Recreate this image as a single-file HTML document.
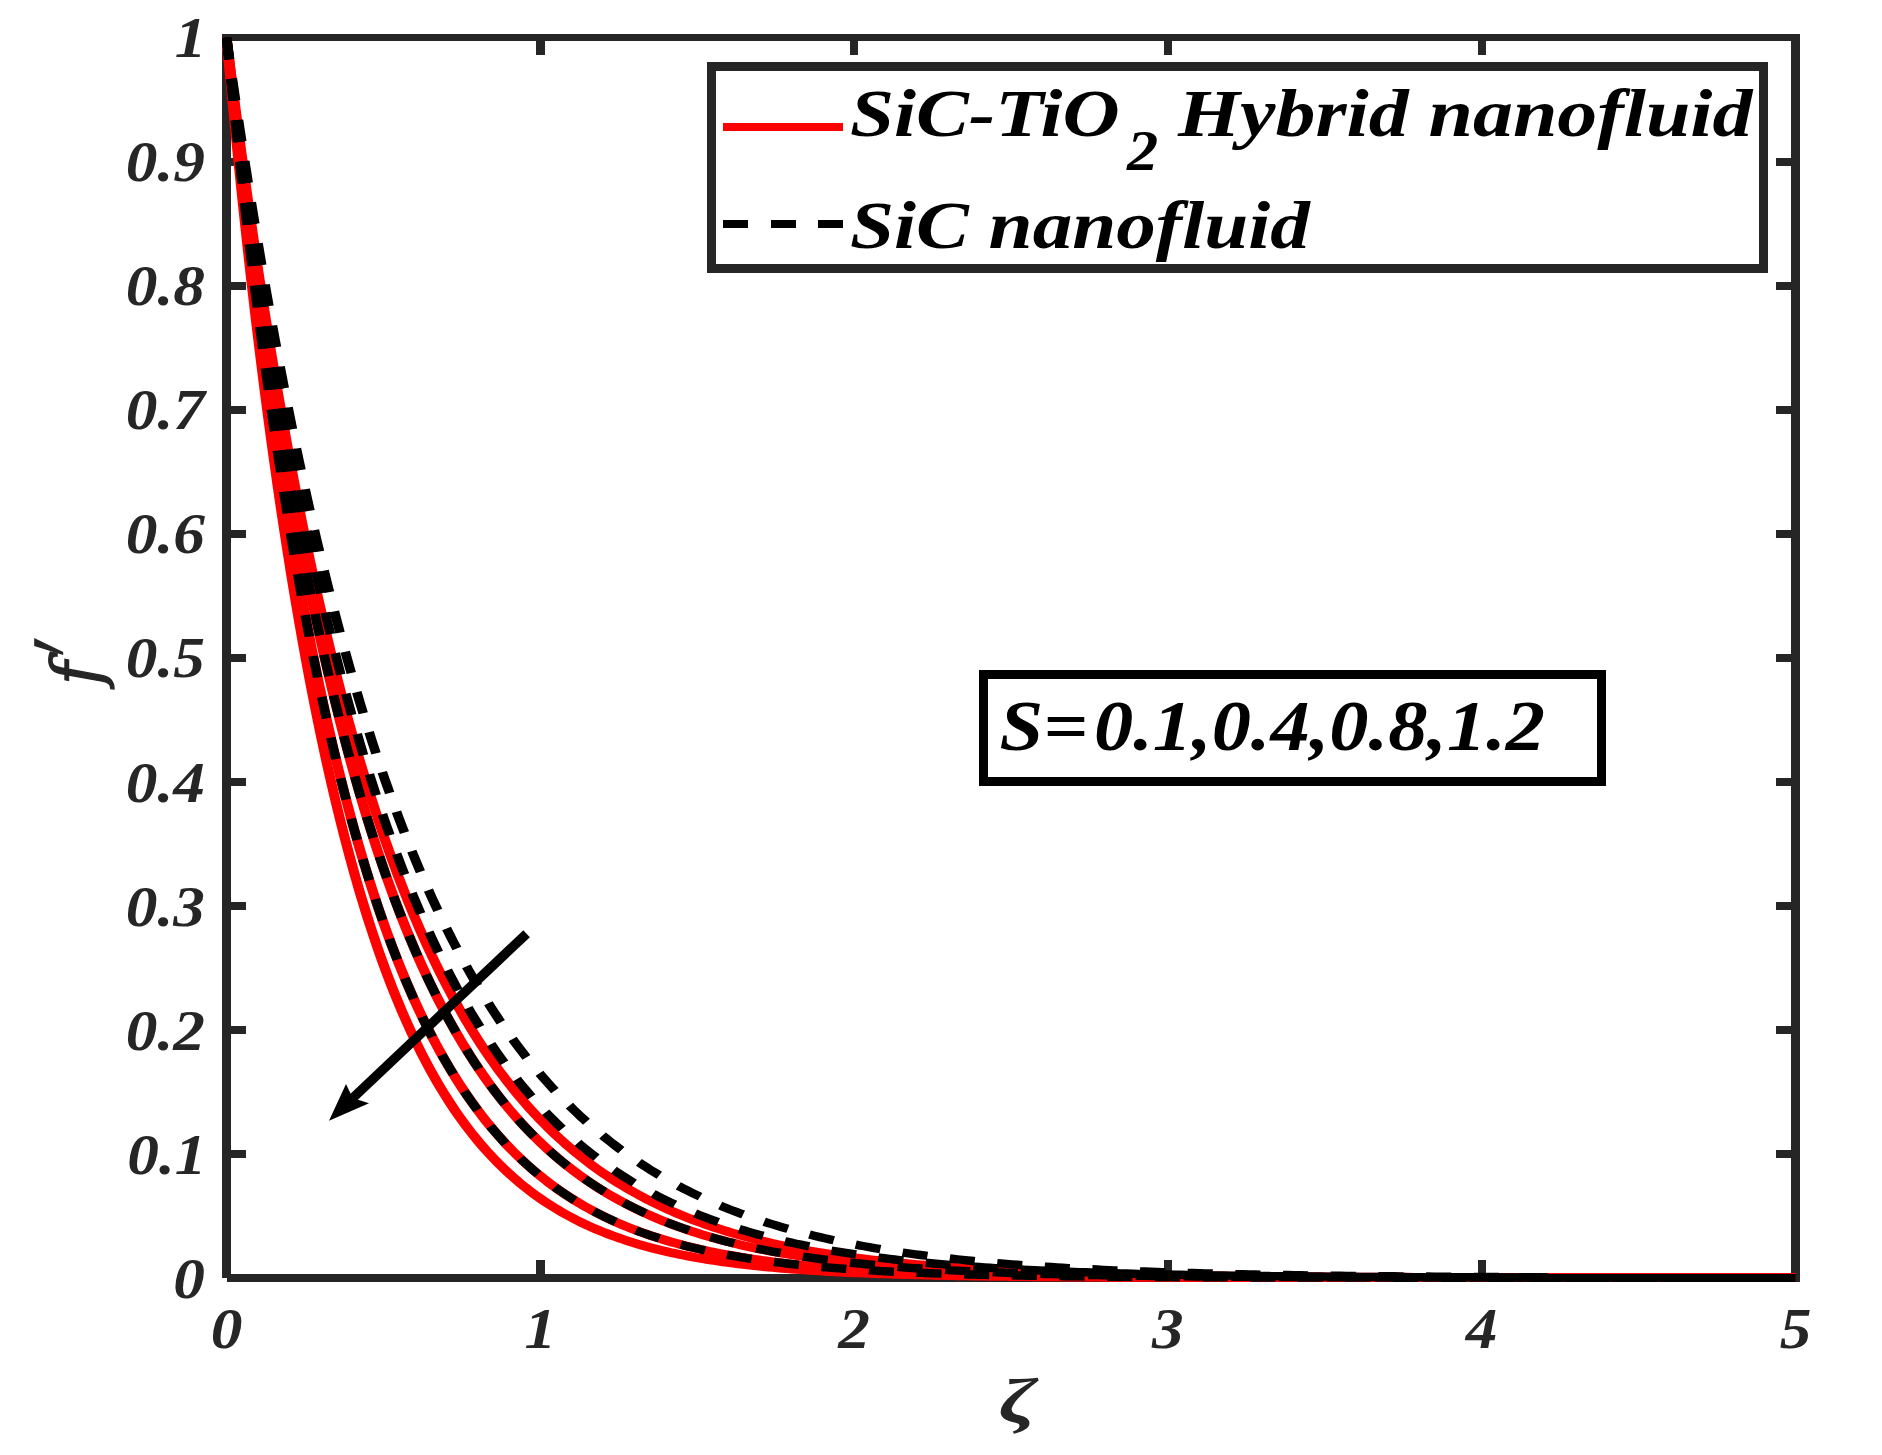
<!DOCTYPE html>
<html lang="en"><head><meta charset="utf-8"><title>f′ versus ζ</title>
<style>html,body{margin:0;padding:0;background:#fff}body{width:1882px;height:1455px;overflow:hidden}svg{display:block}text{font-family:"Liberation Serif","Times New Roman",serif;font-weight:bold;font-style:italic}</style>
</head><body>
<svg width="1882" height="1455" viewBox="0 0 1882 1455">
<rect x="0" y="0" width="1882" height="1455" fill="#fff"/>
<g fill="#262626" shape-rendering="crispEdges">
<rect x="222" y="37.5" width="9" height="1240.3"/>
<rect x="1791" y="37.5" width="9" height="1244.5"/>
<rect x="222" y="34" width="1578" height="7"/>
<rect x="226.5" y="1274" width="1573.5" height="8"/>
<rect x="536.0" y="34" width="8.5" height="21"/>
<rect x="536.0" y="1260" width="8.5" height="18"/>
<rect x="849.9" y="34" width="8.5" height="21"/>
<rect x="849.9" y="1260" width="8.5" height="18"/>
<rect x="1163.7" y="34" width="8.5" height="21"/>
<rect x="1163.7" y="1260" width="8.5" height="18"/>
<rect x="1477.5" y="34" width="8.5" height="21"/>
<rect x="1477.5" y="1260" width="8.5" height="18"/>
<rect x="222" y="1149.8" width="24" height="8"/>
<rect x="1776" y="1149.8" width="24" height="8"/>
<rect x="222" y="1025.7" width="24" height="8"/>
<rect x="1776" y="1025.7" width="24" height="8"/>
<rect x="222" y="901.7" width="24" height="8"/>
<rect x="1776" y="901.7" width="24" height="8"/>
<rect x="222" y="777.7" width="24" height="8"/>
<rect x="1776" y="777.7" width="24" height="8"/>
<rect x="222" y="653.6" width="24" height="8"/>
<rect x="1776" y="653.6" width="24" height="8"/>
<rect x="222" y="529.6" width="24" height="8"/>
<rect x="1776" y="529.6" width="24" height="8"/>
<rect x="222" y="405.6" width="24" height="8"/>
<rect x="1776" y="405.6" width="24" height="8"/>
<rect x="222" y="281.6" width="24" height="8"/>
<rect x="1776" y="281.6" width="24" height="8"/>
<rect x="222" y="157.5" width="24" height="8"/>
<rect x="1776" y="157.5" width="24" height="8"/>
</g>
<clipPath id="cp"><rect x="222" y="30" width="1578" height="1252"/></clipPath>
<g clip-path="url(#cp)"><g transform="scale(1.148,1)" fill="none" stroke-linejoin="round">
<path d="M197.30 37.50 L197.31 37.58 L197.33 37.82 L197.38 38.22 L197.44 38.78 L197.51 39.49 L197.61 40.37 L197.72 41.41 L197.85 42.60 L197.99 43.95 L198.15 45.46 L198.33 47.12 L198.53 48.94 L198.74 50.92 L198.97 53.05 L199.22 55.34 L199.49 57.77 L199.77 60.36 L200.07 63.10 L200.38 65.99 L200.72 69.03 L201.07 72.22 L201.43 75.55 L201.82 79.03 L202.22 82.65 L202.64 86.41 L203.07 90.32 L203.53 94.36 L204.00 98.54 L204.48 102.86 L204.99 107.32 L205.51 111.91 L206.05 116.62 L206.60 121.47 L207.17 126.45 L207.76 131.55 L208.37 136.78 L208.99 142.13 L209.63 147.60 L210.29 153.19 L210.97 158.89 L211.66 164.71 L212.37 170.64 L213.09 176.68 L213.84 182.83 L214.60 189.09 L215.37 195.45 L216.17 201.91 L216.98 208.47 L217.81 215.13 L218.65 221.88 L219.52 228.72 L220.40 235.65 L221.29 242.67 L222.21 249.78 L223.14 256.97 L224.09 264.24 L225.05 271.58 L226.04 279.00 L227.03 286.50 L228.05 294.06 L229.08 301.70 L230.14 309.39 L231.20 317.16 L232.29 324.98 L233.39 332.86 L234.51 340.79 L235.64 348.78 L236.80 356.82 L237.97 364.91 L239.16 373.04 L240.36 381.21 L241.58 389.43 L242.82 397.68 L244.08 405.97 L245.35 414.30 L246.64 422.65 L247.95 431.03 L249.27 439.44 L250.61 447.87 L251.97 456.32 L253.34 464.79 L254.74 473.28 L256.15 481.78 L257.57 490.29 L259.02 498.81 L260.48 507.34 L261.95 515.87 L263.45 524.41 L264.96 532.94 L266.49 541.48 L268.04 550.01 L269.60 558.53 L271.18 567.04 L272.78 575.55 L274.39 584.04 L276.02 592.52 L277.67 600.98 L279.34 609.42 L281.02 617.85 L282.72 626.25 L284.44 634.62 L286.17 642.97 L287.92 651.30 L289.69 659.59 L291.48 667.85 L293.28 676.08 L295.10 684.28 L296.93 692.43 L298.79 700.55 L300.66 708.63 L302.55 716.67 L304.45 724.67 L306.37 732.63 L308.31 740.54 L310.27 748.40 L312.24 756.21 L314.23 763.98 L316.24 771.69 L318.26 779.35 L320.30 786.96 L322.36 794.52 L324.44 802.02 L326.53 809.47 L328.64 816.86 L330.77 824.18 L332.91 831.46 L335.07 838.67 L337.25 845.82 L339.45 852.90 L341.66 859.93 L343.89 866.89 L346.14 873.79 L348.40 880.62 L350.68 887.39 L352.98 894.09 L355.29 900.73 L357.63 907.30 L359.97 913.80 L362.34 920.23 L364.72 926.60 L367.12 932.89 L369.54 939.12 L371.98 945.28 L374.43 951.37 L376.90 957.38 L379.38 963.33 L381.88 969.21 L384.40 975.01 L386.94 980.74 L389.50 986.41 L392.07 992.00 L394.65 997.52 L397.26 1002.97 L399.88 1008.35 L402.52 1013.65 L405.18 1018.89 L407.85 1024.06 L410.54 1029.15 L413.25 1034.17 L415.98 1039.12 L418.72 1044.01 L421.48 1048.82 L424.25 1053.56 L427.05 1058.23 L429.86 1062.83 L432.68 1067.36 L435.53 1071.83 L438.39 1076.22 L441.27 1080.55 L444.16 1084.80 L447.08 1088.99 L450.01 1093.12 L452.95 1097.17 L455.92 1101.16 L458.90 1105.09 L461.90 1108.95 L464.91 1112.74 L467.95 1116.47 L470.99 1120.14 L474.06 1123.74 L477.15 1127.28 L480.25 1130.75 L483.36 1134.17 L486.50 1137.52 L489.65 1140.81 L492.82 1144.05 L496.01 1147.22 L499.21 1150.34 L502.43 1153.39 L505.67 1156.39 L508.92 1159.33 L512.19 1162.22 L515.48 1165.05 L518.79 1167.82 L522.11 1170.54 L525.45 1173.21 L528.81 1175.82 L532.18 1178.38 L535.57 1180.89 L538.98 1183.35 L542.41 1185.75 L545.85 1188.11 L549.31 1190.42 L552.78 1192.68 L556.28 1194.89 L559.79 1197.06 L563.32 1199.17 L566.86 1201.25 L570.42 1203.27 L574.00 1205.26 L577.60 1207.20 L581.21 1209.09 L584.84 1210.95 L588.49 1212.76 L592.15 1214.53 L595.84 1216.26 L599.54 1217.96 L603.25 1219.61 L606.98 1221.22 L610.73 1222.80 L614.50 1224.34 L618.29 1225.84 L622.09 1227.31 L625.90 1228.74 L629.74 1230.14 L633.59 1231.50 L637.46 1232.83 L641.35 1234.13 L645.25 1235.40 L649.17 1236.63 L653.11 1237.84 L657.07 1239.01 L661.04 1240.15 L665.03 1241.27 L669.03 1242.35 L673.06 1243.41 L677.10 1244.44 L681.15 1245.45 L685.23 1246.43 L689.32 1247.38 L693.43 1248.31 L697.56 1249.21 L701.70 1250.09 L705.86 1250.94 L710.03 1251.78 L714.23 1252.59 L718.44 1253.37 L722.67 1254.14 L726.91 1254.88 L731.18 1255.61 L735.46 1256.31 L739.75 1257.00 L744.07 1257.66 L748.40 1258.31 L752.75 1258.94 L757.11 1259.55 L761.49 1260.14 L765.89 1260.72 L770.31 1261.28 L774.74 1261.82 L779.19 1262.35 L783.66 1262.86 L788.14 1263.35 L792.64 1263.84 L797.16 1264.30 L801.70 1264.76 L806.25 1265.20 L810.82 1265.62 L815.41 1266.04 L820.01 1266.44 L824.63 1266.83 L829.27 1267.20 L833.93 1267.57 L838.60 1267.92 L843.29 1268.27 L848.00 1268.60 L852.72 1268.92 L857.46 1269.23 L862.22 1269.53 L866.99 1269.83 L871.79 1270.11 L876.60 1270.38 L881.42 1270.65 L886.27 1270.90 L891.13 1271.15 L896.00 1271.39 L900.90 1271.62 L905.81 1271.85 L910.74 1272.07 L915.68 1272.28 L920.65 1272.48 L925.63 1272.67 L930.62 1272.86 L935.64 1273.05 L940.67 1273.22 L945.72 1273.39 L950.78 1273.56 L955.87 1273.72 L960.97 1273.87 L966.08 1274.02 L971.22 1274.16 L976.37 1274.30 L981.53 1274.44 L986.72 1274.57 L991.92 1274.69 L997.14 1274.81 L1002.38 1274.93 L1007.63 1275.04 L1012.90 1275.14 L1018.19 1275.25 L1023.49 1275.35 L1028.81 1275.44 L1034.15 1275.54 L1039.51 1275.63 L1044.88 1275.71 L1050.27 1275.80 L1055.68 1275.88 L1061.10 1275.95 L1066.55 1276.03 L1072.00 1276.10 L1077.48 1276.17 L1082.97 1276.23 L1088.48 1276.30 L1094.01 1276.36 L1099.55 1276.42 L1105.11 1276.47 L1110.69 1276.53 L1116.29 1276.58 L1121.90 1276.63 L1127.53 1276.68 L1133.17 1276.73 L1138.84 1276.77 L1144.52 1276.82 L1150.21 1276.86 L1155.93 1276.90 L1161.66 1276.93 L1167.41 1276.97 L1173.18 1277.01 L1178.96 1277.04 L1184.76 1277.07 L1190.58 1277.10 L1196.41 1277.13 L1202.26 1277.16 L1208.13 1277.19 L1214.01 1277.22 L1219.92 1277.24 L1225.84 1277.27 L1231.77 1277.29 L1237.73 1277.31 L1243.70 1277.33 L1249.69 1277.35 L1255.69 1277.37 L1261.71 1277.39 L1267.75 1277.41 L1273.81 1277.43 L1279.88 1277.44 L1285.97 1277.46 L1292.08 1277.48 L1298.20 1277.49 L1304.35 1277.50 L1310.51 1277.52 L1316.68 1277.53 L1322.87 1277.54 L1329.08 1277.55 L1335.31 1277.57 L1341.56 1277.58 L1347.82 1277.59 L1354.10 1277.60 L1360.39 1277.61 L1366.70 1277.62 L1373.03 1277.62 L1379.38 1277.63 L1385.74 1277.64 L1392.12 1277.65 L1398.52 1277.65 L1404.94 1277.66 L1411.37 1277.67 L1417.82 1277.67 L1424.29 1277.68 L1430.77 1277.69 L1437.27 1277.69 L1443.79 1277.70 L1450.32 1277.70 L1456.87 1277.71 L1463.44 1277.71 L1470.03 1277.72 L1476.63 1277.72 L1483.25 1277.72 L1489.89 1277.73 L1496.54 1277.73 L1503.21 1277.73 L1509.90 1277.74 L1516.61 1277.74 L1523.33 1277.74 L1530.07 1277.75 L1536.83 1277.75 L1543.60 1277.75 L1550.39 1277.75 L1557.20 1277.76 L1564.02 1277.76" stroke="#ff0000" stroke-width="8.8"/>
<path d="M197.30 37.50 L197.31 37.59 L197.33 37.84 L197.38 38.27 L197.44 38.87 L197.51 39.64 L197.61 40.59 L197.72 41.70 L197.85 42.98 L197.99 44.43 L198.15 46.06 L198.33 47.84 L198.53 49.80 L198.74 51.92 L198.97 54.21 L199.22 56.67 L199.49 59.28 L199.77 62.06 L200.07 65.01 L200.38 68.11 L200.72 71.37 L201.07 74.79 L201.43 78.36 L201.82 82.09 L202.22 85.98 L202.64 90.01 L203.07 94.20 L203.53 98.53 L204.00 103.01 L204.48 107.64 L204.99 112.41 L205.51 117.32 L206.05 122.37 L206.60 127.56 L207.17 132.88 L207.76 138.33 L208.37 143.92 L208.99 149.63 L209.63 155.48 L210.29 161.44 L210.97 167.53 L211.66 173.74 L212.37 180.06 L213.09 186.50 L213.84 193.05 L214.60 199.72 L215.37 206.49 L216.17 213.36 L216.98 220.34 L217.81 227.41 L218.65 234.59 L219.52 241.85 L220.40 249.21 L221.29 256.66 L222.21 264.20 L223.14 271.82 L224.09 279.52 L225.05 287.29 L226.04 295.15 L227.03 303.07 L228.05 311.07 L229.08 319.13 L230.14 327.26 L231.20 335.45 L232.29 343.70 L233.39 352.00 L234.51 360.36 L235.64 368.76 L236.80 377.22 L237.97 385.72 L239.16 394.26 L240.36 402.84 L241.58 411.46 L242.82 420.11 L244.08 428.79 L245.35 437.50 L246.64 446.24 L247.95 455.00 L249.27 463.78 L250.61 472.58 L251.97 481.39 L253.34 490.22 L254.74 499.06 L256.15 507.90 L257.57 516.75 L259.02 525.60 L260.48 534.45 L261.95 543.30 L263.45 552.14 L264.96 560.98 L266.49 569.81 L268.04 578.62 L269.60 587.42 L271.18 596.21 L272.78 604.97 L274.39 613.72 L276.02 622.44 L277.67 631.13 L279.34 639.80 L281.02 648.44 L282.72 657.05 L284.44 665.63 L286.17 674.17 L287.92 682.68 L289.69 691.14 L291.48 699.57 L293.28 707.95 L295.10 716.29 L296.93 724.59 L298.79 732.84 L300.66 741.03 L302.55 749.18 L304.45 757.28 L306.37 765.32 L308.31 773.31 L310.27 781.25 L312.24 789.12 L314.23 796.94 L316.24 804.70 L318.26 812.40 L320.30 820.03 L322.36 827.61 L324.44 835.12 L326.53 842.56 L328.64 849.94 L330.77 857.25 L332.91 864.49 L335.07 871.67 L337.25 878.77 L339.45 885.81 L341.66 892.77 L343.89 899.67 L346.14 906.49 L348.40 913.24 L350.68 919.91 L352.98 926.52 L355.29 933.04 L357.63 939.50 L359.97 945.88 L362.34 952.18 L364.72 958.41 L367.12 964.56 L369.54 970.64 L371.98 976.64 L374.43 982.56 L376.90 988.41 L379.38 994.18 L381.88 999.87 L384.40 1005.49 L386.94 1011.03 L389.50 1016.50 L392.07 1021.88 L394.65 1027.19 L397.26 1032.43 L399.88 1037.59 L402.52 1042.67 L405.18 1047.68 L407.85 1052.61 L410.54 1057.47 L413.25 1062.25 L415.98 1066.96 L418.72 1071.59 L421.48 1076.15 L424.25 1080.64 L427.05 1085.05 L429.86 1089.39 L432.68 1093.66 L435.53 1097.85 L438.39 1101.98 L441.27 1106.03 L444.16 1110.01 L447.08 1113.93 L450.01 1117.77 L452.95 1121.55 L455.92 1125.26 L458.90 1128.90 L461.90 1132.47 L464.91 1135.98 L467.95 1139.42 L470.99 1142.80 L474.06 1146.11 L477.15 1149.36 L480.25 1152.55 L483.36 1155.68 L486.50 1158.74 L489.65 1161.74 L492.82 1164.68 L496.01 1167.57 L499.21 1170.39 L502.43 1173.16 L505.67 1175.87 L508.92 1178.52 L512.19 1181.12 L515.48 1183.66 L518.79 1186.15 L522.11 1188.58 L525.45 1190.97 L528.81 1193.30 L532.18 1195.58 L535.57 1197.80 L538.98 1199.98 L542.41 1202.11 L545.85 1204.20 L549.31 1206.23 L552.78 1208.22 L556.28 1210.16 L559.79 1212.06 L563.32 1213.91 L566.86 1215.72 L570.42 1217.49 L574.00 1219.21 L577.60 1220.89 L581.21 1222.53 L584.84 1224.14 L588.49 1225.70 L592.15 1227.22 L595.84 1228.71 L599.54 1230.16 L603.25 1231.57 L606.98 1232.95 L610.73 1234.29 L614.50 1235.60 L618.29 1236.88 L622.09 1238.12 L625.90 1239.33 L629.74 1240.50 L633.59 1241.65 L637.46 1242.77 L641.35 1243.85 L645.25 1244.91 L649.17 1245.94 L653.11 1246.94 L657.07 1247.91 L661.04 1248.86 L665.03 1249.78 L669.03 1250.67 L673.06 1251.54 L677.10 1252.39 L681.15 1253.21 L685.23 1254.01 L689.32 1254.79 L693.43 1255.54 L697.56 1256.27 L701.70 1256.98 L705.86 1257.67 L710.03 1258.34 L714.23 1258.99 L718.44 1259.62 L722.67 1260.24 L726.91 1260.83 L731.18 1261.41 L735.46 1261.96 L739.75 1262.51 L744.07 1263.03 L748.40 1263.54 L752.75 1264.03 L757.11 1264.51 L761.49 1264.98 L765.89 1265.43 L770.31 1265.86 L774.74 1266.28 L779.19 1266.69 L783.66 1267.08 L788.14 1267.47 L792.64 1267.84 L797.16 1268.20 L801.70 1268.54 L806.25 1268.88 L810.82 1269.20 L815.41 1269.52 L820.01 1269.82 L824.63 1270.11 L829.27 1270.40 L833.93 1270.67 L838.60 1270.93 L843.29 1271.19 L848.00 1271.44 L852.72 1271.68 L857.46 1271.91 L862.22 1272.13 L866.99 1272.35 L871.79 1272.55 L876.60 1272.75 L881.42 1272.95 L886.27 1273.13 L891.13 1273.31 L896.00 1273.49 L900.90 1273.66 L905.81 1273.82 L910.74 1273.97 L915.68 1274.12 L920.65 1274.27 L925.63 1274.41 L930.62 1274.54 L935.64 1274.67 L940.67 1274.80 L945.72 1274.92 L950.78 1275.03 L955.87 1275.15 L960.97 1275.25 L966.08 1275.36 L971.22 1275.46 L976.37 1275.55 L981.53 1275.64 L986.72 1275.73 L991.92 1275.82 L997.14 1275.90 L1002.38 1275.98 L1007.63 1276.06 L1012.90 1276.13 L1018.19 1276.20 L1023.49 1276.27 L1028.81 1276.33 L1034.15 1276.39 L1039.51 1276.45 L1044.88 1276.51 L1050.27 1276.56 L1055.68 1276.62 L1061.10 1276.67 L1066.55 1276.72 L1072.00 1276.76 L1077.48 1276.81 L1082.97 1276.85 L1088.48 1276.89 L1094.01 1276.93 L1099.55 1276.97 L1105.11 1277.01 L1110.69 1277.04 L1116.29 1277.08 L1121.90 1277.11 L1127.53 1277.14 L1133.17 1277.17 L1138.84 1277.20 L1144.52 1277.22 L1150.21 1277.25 L1155.93 1277.28 L1161.66 1277.30 L1167.41 1277.32 L1173.18 1277.34 L1178.96 1277.36 L1184.76 1277.38 L1190.58 1277.40 L1196.41 1277.42 L1202.26 1277.44 L1208.13 1277.46 L1214.01 1277.47 L1219.92 1277.49 L1225.84 1277.50 L1231.77 1277.52 L1237.73 1277.53 L1243.70 1277.54 L1249.69 1277.55 L1255.69 1277.57 L1261.71 1277.58 L1267.75 1277.59 L1273.81 1277.60 L1279.88 1277.61 L1285.97 1277.62 L1292.08 1277.63 L1298.20 1277.63 L1304.35 1277.64 L1310.51 1277.65 L1316.68 1277.66 L1322.87 1277.66 L1329.08 1277.67 L1335.31 1277.68 L1341.56 1277.68 L1347.82 1277.69 L1354.10 1277.69 L1360.39 1277.70 L1366.70 1277.70 L1373.03 1277.71 L1379.38 1277.71 L1385.74 1277.72 L1392.12 1277.72 L1398.52 1277.73 L1404.94 1277.73 L1411.37 1277.73 L1417.82 1277.74 L1424.29 1277.74 L1430.77 1277.74 L1437.27 1277.75 L1443.79 1277.75 L1450.32 1277.75 L1456.87 1277.75 L1463.44 1277.76 L1470.03 1277.76 L1476.63 1277.76 L1483.25 1277.76 L1489.89 1277.76 L1496.54 1277.77 L1503.21 1277.77 L1509.90 1277.77 L1516.61 1277.77 L1523.33 1277.77 L1530.07 1277.77 L1536.83 1277.78 L1543.60 1277.78 L1550.39 1277.78 L1557.20 1277.78 L1564.02 1277.78" stroke="#ff0000" stroke-width="8.8"/>
<path d="M197.30 37.50 L197.31 37.60 L197.33 37.89 L197.38 38.37 L197.44 39.05 L197.51 39.92 L197.61 40.98 L197.72 42.24 L197.85 43.69 L197.99 45.32 L198.15 47.15 L198.33 49.17 L198.53 51.38 L198.74 53.77 L198.97 56.35 L199.22 59.11 L199.49 62.06 L199.77 65.19 L200.07 68.50 L200.38 71.99 L200.72 75.66 L201.07 79.50 L201.43 83.52 L201.82 87.71 L202.22 92.08 L202.64 96.61 L203.07 101.30 L203.53 106.17 L204.00 111.19 L204.48 116.37 L204.99 121.71 L205.51 127.21 L206.05 132.86 L206.60 138.66 L207.17 144.61 L207.76 150.70 L208.37 156.93 L208.99 163.31 L209.63 169.82 L210.29 176.46 L210.97 183.24 L211.66 190.14 L212.37 197.17 L213.09 204.33 L213.84 211.60 L214.60 218.99 L215.37 226.49 L216.17 234.10 L216.98 241.81 L217.81 249.64 L218.65 257.56 L219.52 265.58 L220.40 273.69 L221.29 281.89 L222.21 290.18 L223.14 298.56 L224.09 307.01 L225.05 315.54 L226.04 324.15 L227.03 332.83 L228.05 341.57 L229.08 350.38 L230.14 359.25 L231.20 368.18 L232.29 377.16 L233.39 386.19 L234.51 395.27 L235.64 404.39 L236.80 413.55 L237.97 422.75 L239.16 431.99 L240.36 441.25 L241.58 450.55 L242.82 459.87 L244.08 469.21 L245.35 478.56 L246.64 487.94 L247.95 497.32 L249.27 506.72 L250.61 516.12 L251.97 525.52 L253.34 534.92 L254.74 544.32 L256.15 553.72 L257.57 563.10 L259.02 572.48 L260.48 581.84 L261.95 591.18 L263.45 600.50 L264.96 609.81 L266.49 619.08 L268.04 628.33 L269.60 637.55 L271.18 646.74 L272.78 655.89 L274.39 665.01 L276.02 674.08 L277.67 683.12 L279.34 692.11 L281.02 701.05 L282.72 709.95 L284.44 718.80 L286.17 727.59 L287.92 736.33 L289.69 745.02 L291.48 753.65 L293.28 762.22 L295.10 770.73 L296.93 779.17 L298.79 787.55 L300.66 795.87 L302.55 804.12 L304.45 812.30 L306.37 820.41 L308.31 828.45 L310.27 836.42 L312.24 844.31 L314.23 852.13 L316.24 859.88 L318.26 867.54 L320.30 875.13 L322.36 882.64 L324.44 890.08 L326.53 897.43 L328.64 904.70 L330.77 911.88 L332.91 918.99 L335.07 926.01 L337.25 932.95 L339.45 939.81 L341.66 946.58 L343.89 953.26 L346.14 959.86 L348.40 966.38 L350.68 972.80 L352.98 979.15 L355.29 985.40 L357.63 991.57 L359.97 997.66 L362.34 1003.66 L364.72 1009.57 L367.12 1015.39 L369.54 1021.13 L371.98 1026.78 L374.43 1032.35 L376.90 1037.83 L379.38 1043.22 L381.88 1048.53 L384.40 1053.75 L386.94 1058.89 L389.50 1063.95 L392.07 1068.92 L394.65 1073.80 L397.26 1078.61 L399.88 1083.33 L402.52 1087.96 L405.18 1092.52 L407.85 1097.00 L410.54 1101.39 L413.25 1105.71 L415.98 1109.94 L418.72 1114.10 L421.48 1118.18 L424.25 1122.18 L427.05 1126.11 L429.86 1129.96 L432.68 1133.73 L435.53 1137.43 L438.39 1141.06 L441.27 1144.61 L444.16 1148.09 L447.08 1151.50 L450.01 1154.84 L452.95 1158.11 L455.92 1161.31 L458.90 1164.44 L461.90 1167.51 L464.91 1170.51 L467.95 1173.45 L470.99 1176.32 L474.06 1179.12 L477.15 1181.87 L480.25 1184.55 L483.36 1187.17 L486.50 1189.73 L489.65 1192.23 L492.82 1194.68 L496.01 1197.07 L499.21 1199.40 L502.43 1201.67 L505.67 1203.89 L508.92 1206.06 L512.19 1208.18 L515.48 1210.24 L518.79 1212.25 L522.11 1214.21 L525.45 1216.13 L528.81 1217.99 L532.18 1219.81 L535.57 1221.58 L538.98 1223.31 L542.41 1224.99 L545.85 1226.62 L549.31 1228.22 L552.78 1229.77 L556.28 1231.28 L559.79 1232.75 L563.32 1234.18 L566.86 1235.57 L570.42 1236.92 L574.00 1238.24 L577.60 1239.52 L581.21 1240.77 L584.84 1241.97 L588.49 1243.15 L592.15 1244.29 L595.84 1245.40 L599.54 1246.48 L603.25 1247.53 L606.98 1248.54 L610.73 1249.53 L614.50 1250.49 L618.29 1251.41 L622.09 1252.32 L625.90 1253.19 L629.74 1254.04 L633.59 1254.86 L637.46 1255.66 L641.35 1256.43 L645.25 1257.18 L649.17 1257.91 L653.11 1258.61 L657.07 1259.29 L661.04 1259.95 L665.03 1260.59 L669.03 1261.21 L673.06 1261.81 L677.10 1262.39 L681.15 1262.95 L685.23 1263.50 L689.32 1264.02 L693.43 1264.53 L697.56 1265.02 L701.70 1265.50 L705.86 1265.96 L710.03 1266.40 L714.23 1266.83 L718.44 1267.24 L722.67 1267.64 L726.91 1268.03 L731.18 1268.40 L735.46 1268.76 L739.75 1269.11 L744.07 1269.45 L748.40 1269.77 L752.75 1270.09 L757.11 1270.39 L761.49 1270.68 L765.89 1270.96 L770.31 1271.23 L774.74 1271.49 L779.19 1271.74 L783.66 1271.99 L788.14 1272.22 L792.64 1272.44 L797.16 1272.66 L801.70 1272.87 L806.25 1273.07 L810.82 1273.26 L815.41 1273.45 L820.01 1273.63 L824.63 1273.80 L829.27 1273.97 L833.93 1274.13 L838.60 1274.28 L843.29 1274.43 L848.00 1274.57 L852.72 1274.71 L857.46 1274.84 L862.22 1274.97 L866.99 1275.09 L871.79 1275.20 L876.60 1275.31 L881.42 1275.42 L886.27 1275.53 L891.13 1275.62 L896.00 1275.72 L900.90 1275.81 L905.81 1275.90 L910.74 1275.98 L915.68 1276.06 L920.65 1276.14 L925.63 1276.21 L930.62 1276.28 L935.64 1276.35 L940.67 1276.42 L945.72 1276.48 L950.78 1276.54 L955.87 1276.60 L960.97 1276.65 L966.08 1276.70 L971.22 1276.75 L976.37 1276.80 L981.53 1276.85 L986.72 1276.89 L991.92 1276.93 L997.14 1276.97 L1002.38 1277.01 L1007.63 1277.05 L1012.90 1277.09 L1018.19 1277.12 L1023.49 1277.15 L1028.81 1277.18 L1034.15 1277.21 L1039.51 1277.24 L1044.88 1277.27 L1050.27 1277.29 L1055.68 1277.32 L1061.10 1277.34 L1066.55 1277.36 L1072.00 1277.38 L1077.48 1277.40 L1082.97 1277.42 L1088.48 1277.44 L1094.01 1277.46 L1099.55 1277.48 L1105.11 1277.49 L1110.69 1277.51 L1116.29 1277.52 L1121.90 1277.54 L1127.53 1277.55 L1133.17 1277.56 L1138.84 1277.57 L1144.52 1277.59 L1150.21 1277.60 L1155.93 1277.61 L1161.66 1277.62 L1167.41 1277.63 L1173.18 1277.64 L1178.96 1277.64 L1184.76 1277.65 L1190.58 1277.66 L1196.41 1277.67 L1202.26 1277.67 L1208.13 1277.68 L1214.01 1277.69 L1219.92 1277.69 L1225.84 1277.70 L1231.77 1277.70 L1237.73 1277.71 L1243.70 1277.71 L1249.69 1277.72 L1255.69 1277.72 L1261.71 1277.73 L1267.75 1277.73 L1273.81 1277.73 L1279.88 1277.74 L1285.97 1277.74 L1292.08 1277.74 L1298.20 1277.75 L1304.35 1277.75 L1310.51 1277.75 L1316.68 1277.76 L1322.87 1277.76 L1329.08 1277.76 L1335.31 1277.76 L1341.56 1277.76 L1347.82 1277.77 L1354.10 1277.77 L1360.39 1277.77 L1366.70 1277.77 L1373.03 1277.77 L1379.38 1277.77 L1385.74 1277.78 L1392.12 1277.78 L1398.52 1277.78 L1404.94 1277.78 L1411.37 1277.78 L1417.82 1277.78 L1424.29 1277.78 L1430.77 1277.78 L1437.27 1277.79 L1443.79 1277.79 L1450.32 1277.79 L1456.87 1277.79 L1463.44 1277.79 L1470.03 1277.79 L1476.63 1277.79 L1483.25 1277.79 L1489.89 1277.79 L1496.54 1277.79 L1503.21 1277.79 L1509.90 1277.79 L1516.61 1277.79 L1523.33 1277.79 L1530.07 1277.79 L1536.83 1277.79 L1543.60 1277.79 L1550.39 1277.79 L1557.20 1277.80 L1564.02 1277.80" stroke="#ff0000" stroke-width="8.8"/>
<path d="M197.30 37.50 L197.31 37.61 L197.33 37.93 L197.38 38.46 L197.44 39.20 L197.51 40.16 L197.61 41.33 L197.72 42.71 L197.85 44.30 L197.99 46.10 L198.15 48.11 L198.33 50.33 L198.53 52.75 L198.74 55.38 L198.97 58.22 L199.22 61.25 L199.49 64.49 L199.77 67.92 L200.07 71.56 L200.38 75.39 L200.72 79.41 L201.07 83.63 L201.43 88.03 L201.82 92.62 L202.22 97.40 L202.64 102.36 L203.07 107.50 L203.53 112.82 L204.00 118.31 L204.48 123.98 L204.99 129.81 L205.51 135.82 L206.05 141.98 L206.60 148.31 L207.17 154.79 L207.76 161.43 L208.37 168.22 L208.99 175.16 L209.63 182.25 L210.29 189.47 L210.97 196.84 L211.66 204.33 L212.37 211.96 L213.09 219.72 L213.84 227.60 L214.60 235.60 L215.37 243.72 L216.17 251.95 L216.98 260.30 L217.81 268.74 L218.65 277.29 L219.52 285.94 L220.40 294.68 L221.29 303.51 L222.21 312.43 L223.14 321.43 L224.09 330.51 L225.05 339.66 L226.04 348.89 L227.03 358.18 L228.05 367.54 L229.08 376.95 L230.14 386.43 L231.20 395.95 L232.29 405.52 L233.39 415.14 L234.51 424.80 L235.64 434.49 L236.80 444.22 L237.97 453.97 L239.16 463.76 L240.36 473.56 L241.58 483.38 L242.82 493.22 L244.08 503.07 L245.35 512.93 L246.64 522.79 L247.95 532.65 L249.27 542.51 L250.61 552.36 L251.97 562.21 L253.34 572.04 L254.74 581.86 L256.15 591.66 L257.57 601.43 L259.02 611.19 L260.48 620.91 L261.95 630.61 L263.45 640.27 L264.96 649.89 L266.49 659.47 L268.04 669.02 L269.60 678.52 L271.18 687.97 L272.78 697.37 L274.39 706.72 L276.02 716.02 L277.67 725.26 L279.34 734.44 L281.02 743.57 L282.72 752.62 L284.44 761.62 L286.17 770.54 L287.92 779.40 L289.69 788.19 L291.48 796.91 L293.28 805.55 L295.10 814.11 L296.93 822.60 L298.79 831.01 L300.66 839.34 L302.55 847.59 L304.45 855.76 L306.37 863.84 L308.31 871.84 L310.27 879.75 L312.24 887.57 L314.23 895.31 L316.24 902.95 L318.26 910.51 L320.30 917.98 L322.36 925.35 L324.44 932.64 L326.53 939.83 L328.64 946.93 L330.77 953.93 L332.91 960.84 L335.07 967.66 L337.25 974.38 L339.45 981.01 L341.66 987.54 L343.89 993.98 L346.14 1000.32 L348.40 1006.57 L350.68 1012.72 L352.98 1018.78 L355.29 1024.74 L357.63 1030.61 L359.97 1036.39 L362.34 1042.06 L364.72 1047.65 L367.12 1053.14 L369.54 1058.54 L371.98 1063.84 L374.43 1069.06 L376.90 1074.18 L379.38 1079.21 L381.88 1084.14 L384.40 1088.99 L386.94 1093.75 L389.50 1098.42 L392.07 1103.00 L394.65 1107.49 L397.26 1111.90 L399.88 1116.22 L402.52 1120.45 L405.18 1124.60 L407.85 1128.67 L410.54 1132.65 L413.25 1136.55 L415.98 1140.37 L418.72 1144.11 L421.48 1147.77 L424.25 1151.35 L427.05 1154.86 L429.86 1158.28 L432.68 1161.63 L435.53 1164.91 L438.39 1168.12 L441.27 1171.25 L444.16 1174.31 L447.08 1177.29 L450.01 1180.21 L452.95 1183.06 L455.92 1185.85 L458.90 1188.57 L461.90 1191.22 L464.91 1193.80 L467.95 1196.33 L470.99 1198.79 L474.06 1201.19 L477.15 1203.53 L480.25 1205.81 L483.36 1208.03 L486.50 1210.20 L489.65 1212.31 L492.82 1214.37 L496.01 1216.37 L499.21 1218.31 L502.43 1220.21 L505.67 1222.06 L508.92 1223.85 L512.19 1225.60 L515.48 1227.30 L518.79 1228.95 L522.11 1230.56 L525.45 1232.12 L528.81 1233.63 L532.18 1235.11 L535.57 1236.54 L538.98 1237.93 L542.41 1239.28 L545.85 1240.59 L549.31 1241.87 L552.78 1243.10 L556.28 1244.30 L559.79 1245.46 L563.32 1246.59 L566.86 1247.68 L570.42 1248.74 L574.00 1249.77 L577.60 1250.77 L581.21 1251.73 L584.84 1252.67 L588.49 1253.57 L592.15 1254.45 L595.84 1255.30 L599.54 1256.12 L603.25 1256.92 L606.98 1257.69 L610.73 1258.43 L614.50 1259.15 L618.29 1259.85 L622.09 1260.52 L625.90 1261.17 L629.74 1261.80 L633.59 1262.41 L637.46 1263.00 L641.35 1263.56 L645.25 1264.11 L649.17 1264.64 L653.11 1265.15 L657.07 1265.65 L661.04 1266.12 L665.03 1266.58 L669.03 1267.03 L673.06 1267.45 L677.10 1267.86 L681.15 1268.26 L685.23 1268.65 L689.32 1269.01 L693.43 1269.37 L697.56 1269.71 L701.70 1270.04 L705.86 1270.36 L710.03 1270.67 L714.23 1270.96 L718.44 1271.25 L722.67 1271.52 L726.91 1271.78 L731.18 1272.03 L735.46 1272.28 L739.75 1272.51 L744.07 1272.74 L748.40 1272.95 L752.75 1273.16 L757.11 1273.36 L761.49 1273.55 L765.89 1273.73 L770.31 1273.91 L774.74 1274.08 L779.19 1274.24 L783.66 1274.40 L788.14 1274.55 L792.64 1274.69 L797.16 1274.83 L801.70 1274.96 L806.25 1275.09 L810.82 1275.21 L815.41 1275.33 L820.01 1275.44 L824.63 1275.55 L829.27 1275.65 L833.93 1275.75 L838.60 1275.84 L843.29 1275.93 L848.00 1276.02 L852.72 1276.10 L857.46 1276.18 L862.22 1276.26 L866.99 1276.33 L871.79 1276.40 L876.60 1276.46 L881.42 1276.53 L886.27 1276.59 L891.13 1276.65 L896.00 1276.70 L900.90 1276.75 L905.81 1276.80 L910.74 1276.85 L915.68 1276.90 L920.65 1276.94 L925.63 1276.98 L930.62 1277.02 L935.64 1277.06 L940.67 1277.10 L945.72 1277.13 L950.78 1277.17 L955.87 1277.20 L960.97 1277.23 L966.08 1277.26 L971.22 1277.28 L976.37 1277.31 L981.53 1277.34 L986.72 1277.36 L991.92 1277.38 L997.14 1277.40 L1002.38 1277.42 L1007.63 1277.44 L1012.90 1277.46 L1018.19 1277.48 L1023.49 1277.50 L1028.81 1277.51 L1034.15 1277.53 L1039.51 1277.54 L1044.88 1277.55 L1050.27 1277.57 L1055.68 1277.58 L1061.10 1277.59 L1066.55 1277.60 L1072.00 1277.61 L1077.48 1277.62 L1082.97 1277.63 L1088.48 1277.64 L1094.01 1277.65 L1099.55 1277.66 L1105.11 1277.67 L1110.69 1277.67 L1116.29 1277.68 L1121.90 1277.69 L1127.53 1277.69 L1133.17 1277.70 L1138.84 1277.70 L1144.52 1277.71 L1150.21 1277.71 L1155.93 1277.72 L1161.66 1277.72 L1167.41 1277.73 L1173.18 1277.73 L1178.96 1277.74 L1184.76 1277.74 L1190.58 1277.74 L1196.41 1277.75 L1202.26 1277.75 L1208.13 1277.75 L1214.01 1277.76 L1219.92 1277.76 L1225.84 1277.76 L1231.77 1277.76 L1237.73 1277.76 L1243.70 1277.77 L1249.69 1277.77 L1255.69 1277.77 L1261.71 1277.77 L1267.75 1277.77 L1273.81 1277.78 L1279.88 1277.78 L1285.97 1277.78 L1292.08 1277.78 L1298.20 1277.78 L1304.35 1277.78 L1310.51 1277.78 L1316.68 1277.78 L1322.87 1277.79 L1329.08 1277.79 L1335.31 1277.79 L1341.56 1277.79 L1347.82 1277.79 L1354.10 1277.79 L1360.39 1277.79 L1366.70 1277.79 L1373.03 1277.79 L1379.38 1277.79 L1385.74 1277.79 L1392.12 1277.79 L1398.52 1277.79 L1404.94 1277.79 L1411.37 1277.79 L1417.82 1277.79 L1424.29 1277.79 L1430.77 1277.79 L1437.27 1277.80 L1443.79 1277.80 L1450.32 1277.80 L1456.87 1277.80 L1463.44 1277.80 L1470.03 1277.80 L1476.63 1277.80 L1483.25 1277.80 L1489.89 1277.80 L1496.54 1277.80 L1503.21 1277.80 L1509.90 1277.80 L1516.61 1277.80 L1523.33 1277.80 L1530.07 1277.80 L1536.83 1277.80 L1543.60 1277.80 L1550.39 1277.80 L1557.20 1277.80 L1564.02 1277.80" stroke="#ff0000" stroke-width="8.8"/>
<path d="M197.30 37.50 L197.31 37.57 L197.33 37.78 L197.38 38.13 L197.44 38.62 L197.51 39.25 L197.61 40.02 L197.72 40.93 L197.85 41.97 L197.99 43.16 L198.15 44.48 L198.33 45.95 L198.53 47.54 L198.74 49.28 L198.97 51.15 L199.22 53.16 L199.49 55.30 L199.77 57.58 L200.07 59.99 L200.38 62.53 L200.72 65.20 L201.07 68.01 L201.43 70.94 L201.82 74.00 L202.22 77.19 L202.64 80.51 L203.07 83.95 L203.53 87.52 L204.00 91.21 L204.48 95.03 L204.99 98.96 L205.51 103.01 L206.05 107.18 L206.60 111.47 L207.17 115.88 L207.76 120.40 L208.37 125.03 L208.99 129.77 L209.63 134.62 L210.29 139.58 L210.97 144.65 L211.66 149.82 L212.37 155.09 L213.09 160.47 L213.84 165.95 L214.60 171.52 L215.37 177.19 L216.17 182.95 L216.98 188.81 L217.81 194.76 L218.65 200.80 L219.52 206.92 L220.40 213.13 L221.29 219.43 L222.21 225.80 L223.14 232.26 L224.09 238.79 L225.05 245.40 L226.04 252.08 L227.03 258.84 L228.05 265.66 L229.08 272.55 L230.14 279.51 L231.20 286.53 L232.29 293.62 L233.39 300.76 L234.51 307.96 L235.64 315.22 L236.80 322.53 L237.97 329.89 L239.16 337.30 L240.36 344.76 L241.58 352.26 L242.82 359.81 L244.08 367.40 L245.35 375.03 L246.64 382.69 L247.95 390.39 L249.27 398.12 L250.61 405.89 L251.97 413.68 L253.34 421.50 L254.74 429.35 L256.15 437.22 L257.57 445.11 L259.02 453.02 L260.48 460.94 L261.95 468.88 L263.45 476.84 L264.96 484.80 L266.49 492.78 L268.04 500.76 L269.60 508.75 L271.18 516.74 L272.78 524.74 L274.39 532.73 L276.02 540.72 L277.67 548.71 L279.34 556.70 L281.02 564.67 L282.72 572.64 L284.44 580.60 L286.17 588.55 L287.92 596.48 L289.69 604.40 L291.48 612.30 L293.28 620.18 L295.10 628.04 L296.93 635.88 L298.79 643.70 L300.66 651.50 L302.55 659.26 L304.45 667.00 L306.37 674.71 L308.31 682.40 L310.27 690.05 L312.24 697.66 L314.23 705.25 L316.24 712.79 L318.26 720.30 L320.30 727.78 L322.36 735.21 L324.44 742.61 L326.53 749.96 L328.64 757.27 L330.77 764.54 L332.91 771.76 L335.07 778.94 L337.25 786.07 L339.45 793.16 L341.66 800.19 L343.89 807.18 L346.14 814.12 L348.40 821.01 L350.68 827.84 L352.98 834.62 L355.29 841.35 L357.63 848.03 L359.97 854.65 L362.34 861.22 L364.72 867.73 L367.12 874.19 L369.54 880.59 L371.98 886.93 L374.43 893.21 L376.90 899.44 L379.38 905.60 L381.88 911.71 L384.40 917.76 L386.94 923.75 L389.50 929.67 L392.07 935.54 L394.65 941.35 L397.26 947.09 L399.88 952.78 L402.52 958.40 L405.18 963.96 L407.85 969.46 L410.54 974.89 L413.25 980.27 L415.98 985.58 L418.72 990.83 L421.48 996.02 L424.25 1001.14 L427.05 1006.20 L429.86 1011.20 L432.68 1016.14 L435.53 1021.01 L438.39 1025.82 L441.27 1030.57 L444.16 1035.26 L447.08 1039.89 L450.01 1044.45 L452.95 1048.95 L455.92 1053.39 L458.90 1057.77 L461.90 1062.09 L464.91 1066.35 L467.95 1070.54 L470.99 1074.68 L474.06 1078.76 L477.15 1082.77 L480.25 1086.73 L483.36 1090.63 L486.50 1094.47 L489.65 1098.25 L492.82 1101.97 L496.01 1105.64 L499.21 1109.24 L502.43 1112.79 L505.67 1116.29 L508.92 1119.72 L512.19 1123.11 L515.48 1126.43 L518.79 1129.71 L522.11 1132.92 L525.45 1136.09 L528.81 1139.20 L532.18 1142.25 L535.57 1145.26 L538.98 1148.21 L542.41 1151.11 L545.85 1153.96 L549.31 1156.76 L552.78 1159.51 L556.28 1162.21 L559.79 1164.87 L563.32 1167.47 L566.86 1170.03 L570.42 1172.53 L574.00 1174.99 L577.60 1177.41 L581.21 1179.78 L584.84 1182.10 L588.49 1184.38 L592.15 1186.62 L595.84 1188.81 L599.54 1190.96 L603.25 1193.07 L606.98 1195.13 L610.73 1197.16 L614.50 1199.14 L618.29 1201.08 L622.09 1202.99 L625.90 1204.85 L629.74 1206.68 L633.59 1208.47 L637.46 1210.22 L641.35 1211.93 L645.25 1213.61 L649.17 1215.25 L653.11 1216.86 L657.07 1218.43 L661.04 1219.97 L665.03 1221.48 L669.03 1222.95 L673.06 1224.39 L677.10 1225.80 L681.15 1227.17 L685.23 1228.52 L689.32 1229.83 L693.43 1231.12 L697.56 1232.37 L701.70 1233.60 L705.86 1234.80 L710.03 1235.97 L714.23 1237.12 L718.44 1238.23 L722.67 1239.32 L726.91 1240.39 L731.18 1241.43 L735.46 1242.44 L739.75 1243.43 L744.07 1244.40 L748.40 1245.34 L752.75 1246.26 L757.11 1247.16 L761.49 1248.03 L765.89 1248.89 L770.31 1249.72 L774.74 1250.53 L779.19 1251.32 L783.66 1252.09 L788.14 1252.84 L792.64 1253.57 L797.16 1254.29 L801.70 1254.98 L806.25 1255.66 L810.82 1256.32 L815.41 1256.96 L820.01 1257.58 L824.63 1258.19 L829.27 1258.78 L833.93 1259.36 L838.60 1259.92 L843.29 1260.47 L848.00 1261.00 L852.72 1261.51 L857.46 1262.02 L862.22 1262.51 L866.99 1262.98 L871.79 1263.44 L876.60 1263.89 L881.42 1264.33 L886.27 1264.75 L891.13 1265.17 L896.00 1265.57 L900.90 1265.96 L905.81 1266.33 L910.74 1266.70 L915.68 1267.06 L920.65 1267.41 L925.63 1267.74 L930.62 1268.07 L935.64 1268.39 L940.67 1268.69 L945.72 1268.99 L950.78 1269.28 L955.87 1269.56 L960.97 1269.84 L966.08 1270.10 L971.22 1270.36 L976.37 1270.61 L981.53 1270.85 L986.72 1271.08 L991.92 1271.31 L997.14 1271.53 L1002.38 1271.74 L1007.63 1271.95 L1012.90 1272.15 L1018.19 1272.35 L1023.49 1272.53 L1028.81 1272.72 L1034.15 1272.89 L1039.51 1273.06 L1044.88 1273.23 L1050.27 1273.39 L1055.68 1273.54 L1061.10 1273.69 L1066.55 1273.84 L1072.00 1273.98 L1077.48 1274.11 L1082.97 1274.25 L1088.48 1274.37 L1094.01 1274.50 L1099.55 1274.61 L1105.11 1274.73 L1110.69 1274.84 L1116.29 1274.95 L1121.90 1275.05 L1127.53 1275.15 L1133.17 1275.25 L1138.84 1275.34 L1144.52 1275.43 L1150.21 1275.52 L1155.93 1275.61 L1161.66 1275.69 L1167.41 1275.77 L1173.18 1275.84 L1178.96 1275.92 L1184.76 1275.99 L1190.58 1276.05 L1196.41 1276.12 L1202.26 1276.18 L1208.13 1276.25 L1214.01 1276.31 L1219.92 1276.36 L1225.84 1276.42 L1231.77 1276.47 L1237.73 1276.52 L1243.70 1276.57 L1249.69 1276.62 L1255.69 1276.67 L1261.71 1276.71 L1267.75 1276.75 L1273.81 1276.79 L1279.88 1276.83 L1285.97 1276.87 L1292.08 1276.91 L1298.20 1276.94 L1304.35 1276.98 L1310.51 1277.01 L1316.68 1277.04 L1322.87 1277.07 L1329.08 1277.10 L1335.31 1277.13 L1341.56 1277.16 L1347.82 1277.18 L1354.10 1277.21 L1360.39 1277.23 L1366.70 1277.26 L1373.03 1277.28 L1379.38 1277.30 L1385.74 1277.32 L1392.12 1277.34 L1398.52 1277.36 L1404.94 1277.38 L1411.37 1277.39 L1417.82 1277.41 L1424.29 1277.43 L1430.77 1277.44 L1437.27 1277.46 L1443.79 1277.47 L1450.32 1277.49 L1456.87 1277.50 L1463.44 1277.51 L1470.03 1277.52 L1476.63 1277.54 L1483.25 1277.55 L1489.89 1277.56 L1496.54 1277.57 L1503.21 1277.58 L1509.90 1277.59 L1516.61 1277.60 L1523.33 1277.61 L1530.07 1277.62 L1536.83 1277.62 L1543.60 1277.63 L1550.39 1277.64 L1557.20 1277.65 L1564.02 1277.65" stroke="#000" stroke-width="8.4" stroke-dasharray="21.9 19.65"/>
<path d="M197.30 37.50 L197.31 37.58 L197.33 37.81 L197.38 38.19 L197.44 38.73 L197.51 39.42 L197.61 40.26 L197.72 41.25 L197.85 42.40 L197.99 43.70 L198.15 45.15 L198.33 46.75 L198.53 48.50 L198.74 50.40 L198.97 52.45 L199.22 54.65 L199.49 56.99 L199.77 59.48 L200.07 62.12 L200.38 64.90 L200.72 67.82 L201.07 70.89 L201.43 74.09 L201.82 77.44 L202.22 80.93 L202.64 84.55 L203.07 88.31 L203.53 92.20 L204.00 96.23 L204.48 100.39 L204.99 104.68 L205.51 109.10 L206.05 113.65 L206.60 118.32 L207.17 123.12 L207.76 128.04 L208.37 133.08 L208.99 138.24 L209.63 143.51 L210.29 148.90 L210.97 154.41 L211.66 160.02 L212.37 165.75 L213.09 171.58 L213.84 177.52 L214.60 183.56 L215.37 189.71 L216.17 195.95 L216.98 202.29 L217.81 208.73 L218.65 215.26 L219.52 221.88 L220.40 228.58 L221.29 235.38 L222.21 242.26 L223.14 249.22 L224.09 256.26 L225.05 263.38 L226.04 270.57 L227.03 277.83 L228.05 285.17 L229.08 292.57 L230.14 300.04 L231.20 307.58 L232.29 315.17 L233.39 322.82 L234.51 330.53 L235.64 338.30 L236.80 346.11 L237.97 353.98 L239.16 361.89 L240.36 369.84 L241.58 377.84 L242.82 385.88 L244.08 393.96 L245.35 402.07 L246.64 410.21 L247.95 418.39 L249.27 426.59 L250.61 434.82 L251.97 443.07 L253.34 451.34 L254.74 459.64 L256.15 467.95 L257.57 476.27 L259.02 484.61 L260.48 492.96 L261.95 501.32 L263.45 509.68 L264.96 518.04 L266.49 526.41 L268.04 534.78 L269.60 543.15 L271.18 551.51 L272.78 559.86 L274.39 568.21 L276.02 576.55 L277.67 584.87 L279.34 593.18 L281.02 601.48 L282.72 609.75 L284.44 618.01 L286.17 626.25 L287.92 634.46 L289.69 642.65 L291.48 650.81 L293.28 658.94 L295.10 667.04 L296.93 675.11 L298.79 683.15 L300.66 691.15 L302.55 699.12 L304.45 707.05 L306.37 714.94 L308.31 722.79 L310.27 730.60 L312.24 738.37 L314.23 746.09 L316.24 753.76 L318.26 761.39 L320.30 768.97 L322.36 776.50 L324.44 783.98 L326.53 791.41 L328.64 798.79 L330.77 806.11 L332.91 813.38 L335.07 820.60 L337.25 827.75 L339.45 834.85 L341.66 841.90 L343.89 848.88 L346.14 855.80 L348.40 862.67 L350.68 869.47 L352.98 876.21 L355.29 882.89 L357.63 889.50 L359.97 896.05 L362.34 902.54 L364.72 908.96 L367.12 915.32 L369.54 921.61 L371.98 927.84 L374.43 934.00 L376.90 940.09 L379.38 946.12 L381.88 952.08 L384.40 957.97 L386.94 963.79 L389.50 969.55 L392.07 975.23 L394.65 980.85 L397.26 986.41 L399.88 991.89 L402.52 997.30 L405.18 1002.65 L407.85 1007.93 L410.54 1013.14 L413.25 1018.28 L415.98 1023.35 L418.72 1028.35 L421.48 1033.29 L424.25 1038.16 L427.05 1042.96 L429.86 1047.69 L432.68 1052.35 L435.53 1056.95 L438.39 1061.48 L441.27 1065.95 L444.16 1070.34 L447.08 1074.67 L450.01 1078.94 L452.95 1083.14 L455.92 1087.28 L458.90 1091.35 L461.90 1095.35 L464.91 1099.29 L467.95 1103.17 L470.99 1106.99 L474.06 1110.74 L477.15 1114.43 L480.25 1118.06 L483.36 1121.63 L486.50 1125.13 L489.65 1128.58 L492.82 1131.96 L496.01 1135.29 L499.21 1138.56 L502.43 1141.77 L505.67 1144.92 L508.92 1148.02 L512.19 1151.06 L515.48 1154.04 L518.79 1156.97 L522.11 1159.84 L525.45 1162.66 L528.81 1165.43 L532.18 1168.14 L535.57 1170.80 L538.98 1173.41 L542.41 1175.97 L545.85 1178.48 L549.31 1180.94 L552.78 1183.35 L556.28 1185.71 L559.79 1188.02 L563.32 1190.28 L566.86 1192.50 L570.42 1194.67 L574.00 1196.80 L577.60 1198.88 L581.21 1200.92 L584.84 1202.92 L588.49 1204.87 L592.15 1206.78 L595.84 1208.65 L599.54 1210.48 L603.25 1212.27 L606.98 1214.01 L610.73 1215.72 L614.50 1217.40 L618.29 1219.03 L622.09 1220.62 L625.90 1222.18 L629.74 1223.71 L633.59 1225.20 L637.46 1226.65 L641.35 1228.07 L645.25 1229.46 L649.17 1230.81 L653.11 1232.13 L657.07 1233.42 L661.04 1234.68 L665.03 1235.91 L669.03 1237.11 L673.06 1238.28 L677.10 1239.42 L681.15 1240.53 L685.23 1241.61 L689.32 1242.67 L693.43 1243.70 L697.56 1244.70 L701.70 1245.68 L705.86 1246.63 L710.03 1247.56 L714.23 1248.47 L718.44 1249.35 L722.67 1250.21 L726.91 1251.04 L731.18 1251.86 L735.46 1252.65 L739.75 1253.42 L744.07 1254.17 L748.40 1254.90 L752.75 1255.61 L757.11 1256.30 L761.49 1256.97 L765.89 1257.62 L770.31 1258.26 L774.74 1258.88 L779.19 1259.48 L783.66 1260.06 L788.14 1260.63 L792.64 1261.18 L797.16 1261.71 L801.70 1262.23 L806.25 1262.74 L810.82 1263.23 L815.41 1263.71 L820.01 1264.17 L824.63 1264.62 L829.27 1265.05 L833.93 1265.48 L838.60 1265.89 L843.29 1266.28 L848.00 1266.67 L852.72 1267.04 L857.46 1267.41 L862.22 1267.76 L866.99 1268.10 L871.79 1268.43 L876.60 1268.75 L881.42 1269.06 L886.27 1269.36 L891.13 1269.66 L896.00 1269.94 L900.90 1270.21 L905.81 1270.48 L910.74 1270.73 L915.68 1270.98 L920.65 1271.22 L925.63 1271.46 L930.62 1271.68 L935.64 1271.90 L940.67 1272.11 L945.72 1272.32 L950.78 1272.51 L955.87 1272.70 L960.97 1272.89 L966.08 1273.07 L971.22 1273.24 L976.37 1273.41 L981.53 1273.57 L986.72 1273.73 L991.92 1273.88 L997.14 1274.02 L1002.38 1274.16 L1007.63 1274.30 L1012.90 1274.43 L1018.19 1274.56 L1023.49 1274.68 L1028.81 1274.80 L1034.15 1274.91 L1039.51 1275.02 L1044.88 1275.13 L1050.27 1275.23 L1055.68 1275.33 L1061.10 1275.42 L1066.55 1275.51 L1072.00 1275.60 L1077.48 1275.69 L1082.97 1275.77 L1088.48 1275.85 L1094.01 1275.93 L1099.55 1276.00 L1105.11 1276.07 L1110.69 1276.14 L1116.29 1276.21 L1121.90 1276.27 L1127.53 1276.33 L1133.17 1276.39 L1138.84 1276.45 L1144.52 1276.50 L1150.21 1276.55 L1155.93 1276.60 L1161.66 1276.65 L1167.41 1276.70 L1173.18 1276.74 L1178.96 1276.79 L1184.76 1276.83 L1190.58 1276.87 L1196.41 1276.91 L1202.26 1276.94 L1208.13 1276.98 L1214.01 1277.01 L1219.92 1277.05 L1225.84 1277.08 L1231.77 1277.11 L1237.73 1277.14 L1243.70 1277.17 L1249.69 1277.19 L1255.69 1277.22 L1261.71 1277.24 L1267.75 1277.27 L1273.81 1277.29 L1279.88 1277.31 L1285.97 1277.33 L1292.08 1277.35 L1298.20 1277.37 L1304.35 1277.39 L1310.51 1277.41 L1316.68 1277.43 L1322.87 1277.44 L1329.08 1277.46 L1335.31 1277.47 L1341.56 1277.49 L1347.82 1277.50 L1354.10 1277.52 L1360.39 1277.53 L1366.70 1277.54 L1373.03 1277.55 L1379.38 1277.56 L1385.74 1277.57 L1392.12 1277.58 L1398.52 1277.59 L1404.94 1277.60 L1411.37 1277.61 L1417.82 1277.62 L1424.29 1277.63 L1430.77 1277.64 L1437.27 1277.64 L1443.79 1277.65 L1450.32 1277.66 L1456.87 1277.66 L1463.44 1277.67 L1470.03 1277.68 L1476.63 1277.68 L1483.25 1277.69 L1489.89 1277.69 L1496.54 1277.70 L1503.21 1277.70 L1509.90 1277.71 L1516.61 1277.71 L1523.33 1277.72 L1530.07 1277.72 L1536.83 1277.72 L1543.60 1277.73 L1550.39 1277.73 L1557.20 1277.73 L1564.02 1277.74" stroke="#000" stroke-width="8.4" stroke-dasharray="21.9 19.65"/>
<path d="M197.30 37.50 L197.31 37.59 L197.33 37.84 L197.38 38.27 L197.44 38.87 L197.51 39.64 L197.61 40.59 L197.72 41.70 L197.85 42.98 L197.99 44.43 L198.15 46.06 L198.33 47.84 L198.53 49.80 L198.74 51.92 L198.97 54.21 L199.22 56.67 L199.49 59.28 L199.77 62.06 L200.07 65.01 L200.38 68.11 L200.72 71.37 L201.07 74.79 L201.43 78.36 L201.82 82.09 L202.22 85.98 L202.64 90.01 L203.07 94.20 L203.53 98.53 L204.00 103.01 L204.48 107.64 L204.99 112.41 L205.51 117.32 L206.05 122.37 L206.60 127.56 L207.17 132.88 L207.76 138.33 L208.37 143.92 L208.99 149.63 L209.63 155.48 L210.29 161.44 L210.97 167.53 L211.66 173.74 L212.37 180.06 L213.09 186.50 L213.84 193.05 L214.60 199.72 L215.37 206.49 L216.17 213.36 L216.98 220.34 L217.81 227.41 L218.65 234.59 L219.52 241.85 L220.40 249.21 L221.29 256.66 L222.21 264.20 L223.14 271.82 L224.09 279.52 L225.05 287.29 L226.04 295.15 L227.03 303.07 L228.05 311.07 L229.08 319.13 L230.14 327.26 L231.20 335.45 L232.29 343.70 L233.39 352.00 L234.51 360.36 L235.64 368.76 L236.80 377.22 L237.97 385.72 L239.16 394.26 L240.36 402.84 L241.58 411.46 L242.82 420.11 L244.08 428.79 L245.35 437.50 L246.64 446.24 L247.95 455.00 L249.27 463.78 L250.61 472.58 L251.97 481.39 L253.34 490.22 L254.74 499.06 L256.15 507.90 L257.57 516.75 L259.02 525.60 L260.48 534.45 L261.95 543.30 L263.45 552.14 L264.96 560.98 L266.49 569.81 L268.04 578.62 L269.60 587.42 L271.18 596.21 L272.78 604.97 L274.39 613.72 L276.02 622.44 L277.67 631.13 L279.34 639.80 L281.02 648.44 L282.72 657.05 L284.44 665.63 L286.17 674.17 L287.92 682.68 L289.69 691.14 L291.48 699.57 L293.28 707.95 L295.10 716.29 L296.93 724.59 L298.79 732.84 L300.66 741.03 L302.55 749.18 L304.45 757.28 L306.37 765.32 L308.31 773.31 L310.27 781.25 L312.24 789.12 L314.23 796.94 L316.24 804.70 L318.26 812.40 L320.30 820.03 L322.36 827.61 L324.44 835.12 L326.53 842.56 L328.64 849.94 L330.77 857.25 L332.91 864.49 L335.07 871.67 L337.25 878.77 L339.45 885.81 L341.66 892.77 L343.89 899.67 L346.14 906.49 L348.40 913.24 L350.68 919.91 L352.98 926.52 L355.29 933.04 L357.63 939.50 L359.97 945.88 L362.34 952.18 L364.72 958.41 L367.12 964.56 L369.54 970.64 L371.98 976.64 L374.43 982.56 L376.90 988.41 L379.38 994.18 L381.88 999.87 L384.40 1005.49 L386.94 1011.03 L389.50 1016.50 L392.07 1021.88 L394.65 1027.19 L397.26 1032.43 L399.88 1037.59 L402.52 1042.67 L405.18 1047.68 L407.85 1052.61 L410.54 1057.47 L413.25 1062.25 L415.98 1066.96 L418.72 1071.59 L421.48 1076.15 L424.25 1080.64 L427.05 1085.05 L429.86 1089.39 L432.68 1093.66 L435.53 1097.85 L438.39 1101.98 L441.27 1106.03 L444.16 1110.01 L447.08 1113.93 L450.01 1117.77 L452.95 1121.55 L455.92 1125.26 L458.90 1128.90 L461.90 1132.47 L464.91 1135.98 L467.95 1139.42 L470.99 1142.80 L474.06 1146.11 L477.15 1149.36 L480.25 1152.55 L483.36 1155.68 L486.50 1158.74 L489.65 1161.74 L492.82 1164.68 L496.01 1167.57 L499.21 1170.39 L502.43 1173.16 L505.67 1175.87 L508.92 1178.52 L512.19 1181.12 L515.48 1183.66 L518.79 1186.15 L522.11 1188.58 L525.45 1190.97 L528.81 1193.30 L532.18 1195.58 L535.57 1197.80 L538.98 1199.98 L542.41 1202.11 L545.85 1204.20 L549.31 1206.23 L552.78 1208.22 L556.28 1210.16 L559.79 1212.06 L563.32 1213.91 L566.86 1215.72 L570.42 1217.49 L574.00 1219.21 L577.60 1220.89 L581.21 1222.53 L584.84 1224.14 L588.49 1225.70 L592.15 1227.22 L595.84 1228.71 L599.54 1230.16 L603.25 1231.57 L606.98 1232.95 L610.73 1234.29 L614.50 1235.60 L618.29 1236.88 L622.09 1238.12 L625.90 1239.33 L629.74 1240.50 L633.59 1241.65 L637.46 1242.77 L641.35 1243.85 L645.25 1244.91 L649.17 1245.94 L653.11 1246.94 L657.07 1247.91 L661.04 1248.86 L665.03 1249.78 L669.03 1250.67 L673.06 1251.54 L677.10 1252.39 L681.15 1253.21 L685.23 1254.01 L689.32 1254.79 L693.43 1255.54 L697.56 1256.27 L701.70 1256.98 L705.86 1257.67 L710.03 1258.34 L714.23 1258.99 L718.44 1259.62 L722.67 1260.24 L726.91 1260.83 L731.18 1261.41 L735.46 1261.96 L739.75 1262.51 L744.07 1263.03 L748.40 1263.54 L752.75 1264.03 L757.11 1264.51 L761.49 1264.98 L765.89 1265.43 L770.31 1265.86 L774.74 1266.28 L779.19 1266.69 L783.66 1267.08 L788.14 1267.47 L792.64 1267.84 L797.16 1268.20 L801.70 1268.54 L806.25 1268.88 L810.82 1269.20 L815.41 1269.52 L820.01 1269.82 L824.63 1270.11 L829.27 1270.40 L833.93 1270.67 L838.60 1270.93 L843.29 1271.19 L848.00 1271.44 L852.72 1271.68 L857.46 1271.91 L862.22 1272.13 L866.99 1272.35 L871.79 1272.55 L876.60 1272.75 L881.42 1272.95 L886.27 1273.13 L891.13 1273.31 L896.00 1273.49 L900.90 1273.66 L905.81 1273.82 L910.74 1273.97 L915.68 1274.12 L920.65 1274.27 L925.63 1274.41 L930.62 1274.54 L935.64 1274.67 L940.67 1274.80 L945.72 1274.92 L950.78 1275.03 L955.87 1275.15 L960.97 1275.25 L966.08 1275.36 L971.22 1275.46 L976.37 1275.55 L981.53 1275.64 L986.72 1275.73 L991.92 1275.82 L997.14 1275.90 L1002.38 1275.98 L1007.63 1276.06 L1012.90 1276.13 L1018.19 1276.20 L1023.49 1276.27 L1028.81 1276.33 L1034.15 1276.39 L1039.51 1276.45 L1044.88 1276.51 L1050.27 1276.56 L1055.68 1276.62 L1061.10 1276.67 L1066.55 1276.72 L1072.00 1276.76 L1077.48 1276.81 L1082.97 1276.85 L1088.48 1276.89 L1094.01 1276.93 L1099.55 1276.97 L1105.11 1277.01 L1110.69 1277.04 L1116.29 1277.08 L1121.90 1277.11 L1127.53 1277.14 L1133.17 1277.17 L1138.84 1277.20 L1144.52 1277.22 L1150.21 1277.25 L1155.93 1277.28 L1161.66 1277.30 L1167.41 1277.32 L1173.18 1277.34 L1178.96 1277.36 L1184.76 1277.38 L1190.58 1277.40 L1196.41 1277.42 L1202.26 1277.44 L1208.13 1277.46 L1214.01 1277.47 L1219.92 1277.49 L1225.84 1277.50 L1231.77 1277.52 L1237.73 1277.53 L1243.70 1277.54 L1249.69 1277.55 L1255.69 1277.57 L1261.71 1277.58 L1267.75 1277.59 L1273.81 1277.60 L1279.88 1277.61 L1285.97 1277.62 L1292.08 1277.63 L1298.20 1277.63 L1304.35 1277.64 L1310.51 1277.65 L1316.68 1277.66 L1322.87 1277.66 L1329.08 1277.67 L1335.31 1277.68 L1341.56 1277.68 L1347.82 1277.69 L1354.10 1277.69 L1360.39 1277.70 L1366.70 1277.70 L1373.03 1277.71 L1379.38 1277.71 L1385.74 1277.72 L1392.12 1277.72 L1398.52 1277.73 L1404.94 1277.73 L1411.37 1277.73 L1417.82 1277.74 L1424.29 1277.74 L1430.77 1277.74 L1437.27 1277.75 L1443.79 1277.75 L1450.32 1277.75 L1456.87 1277.75 L1463.44 1277.76 L1470.03 1277.76 L1476.63 1277.76 L1483.25 1277.76 L1489.89 1277.76 L1496.54 1277.77 L1503.21 1277.77 L1509.90 1277.77 L1516.61 1277.77 L1523.33 1277.77 L1530.07 1277.77 L1536.83 1277.78 L1543.60 1277.78 L1550.39 1277.78 L1557.20 1277.78 L1564.02 1277.78" stroke="#000" stroke-width="8.4" stroke-dasharray="21.9 19.65"/>
<path d="M197.30 37.50 L197.31 37.60 L197.33 37.89 L197.38 38.37 L197.44 39.05 L197.51 39.92 L197.61 40.98 L197.72 42.24 L197.85 43.69 L197.99 45.32 L198.15 47.15 L198.33 49.17 L198.53 51.38 L198.74 53.77 L198.97 56.35 L199.22 59.11 L199.49 62.06 L199.77 65.19 L200.07 68.50 L200.38 71.99 L200.72 75.66 L201.07 79.50 L201.43 83.52 L201.82 87.71 L202.22 92.08 L202.64 96.61 L203.07 101.30 L203.53 106.17 L204.00 111.19 L204.48 116.37 L204.99 121.71 L205.51 127.21 L206.05 132.86 L206.60 138.66 L207.17 144.61 L207.76 150.70 L208.37 156.93 L208.99 163.31 L209.63 169.82 L210.29 176.46 L210.97 183.24 L211.66 190.14 L212.37 197.17 L213.09 204.33 L213.84 211.60 L214.60 218.99 L215.37 226.49 L216.17 234.10 L216.98 241.81 L217.81 249.64 L218.65 257.56 L219.52 265.58 L220.40 273.69 L221.29 281.89 L222.21 290.18 L223.14 298.56 L224.09 307.01 L225.05 315.54 L226.04 324.15 L227.03 332.83 L228.05 341.57 L229.08 350.38 L230.14 359.25 L231.20 368.18 L232.29 377.16 L233.39 386.19 L234.51 395.27 L235.64 404.39 L236.80 413.55 L237.97 422.75 L239.16 431.99 L240.36 441.25 L241.58 450.55 L242.82 459.87 L244.08 469.21 L245.35 478.56 L246.64 487.94 L247.95 497.32 L249.27 506.72 L250.61 516.12 L251.97 525.52 L253.34 534.92 L254.74 544.32 L256.15 553.72 L257.57 563.10 L259.02 572.48 L260.48 581.84 L261.95 591.18 L263.45 600.50 L264.96 609.81 L266.49 619.08 L268.04 628.33 L269.60 637.55 L271.18 646.74 L272.78 655.89 L274.39 665.01 L276.02 674.08 L277.67 683.12 L279.34 692.11 L281.02 701.05 L282.72 709.95 L284.44 718.80 L286.17 727.59 L287.92 736.33 L289.69 745.02 L291.48 753.65 L293.28 762.22 L295.10 770.73 L296.93 779.17 L298.79 787.55 L300.66 795.87 L302.55 804.12 L304.45 812.30 L306.37 820.41 L308.31 828.45 L310.27 836.42 L312.24 844.31 L314.23 852.13 L316.24 859.88 L318.26 867.54 L320.30 875.13 L322.36 882.64 L324.44 890.08 L326.53 897.43 L328.64 904.70 L330.77 911.88 L332.91 918.99 L335.07 926.01 L337.25 932.95 L339.45 939.81 L341.66 946.58 L343.89 953.26 L346.14 959.86 L348.40 966.38 L350.68 972.80 L352.98 979.15 L355.29 985.40 L357.63 991.57 L359.97 997.66 L362.34 1003.66 L364.72 1009.57 L367.12 1015.39 L369.54 1021.13 L371.98 1026.78 L374.43 1032.35 L376.90 1037.83 L379.38 1043.22 L381.88 1048.53 L384.40 1053.75 L386.94 1058.89 L389.50 1063.95 L392.07 1068.92 L394.65 1073.80 L397.26 1078.61 L399.88 1083.33 L402.52 1087.96 L405.18 1092.52 L407.85 1097.00 L410.54 1101.39 L413.25 1105.71 L415.98 1109.94 L418.72 1114.10 L421.48 1118.18 L424.25 1122.18 L427.05 1126.11 L429.86 1129.96 L432.68 1133.73 L435.53 1137.43 L438.39 1141.06 L441.27 1144.61 L444.16 1148.09 L447.08 1151.50 L450.01 1154.84 L452.95 1158.11 L455.92 1161.31 L458.90 1164.44 L461.90 1167.51 L464.91 1170.51 L467.95 1173.45 L470.99 1176.32 L474.06 1179.12 L477.15 1181.87 L480.25 1184.55 L483.36 1187.17 L486.50 1189.73 L489.65 1192.23 L492.82 1194.68 L496.01 1197.07 L499.21 1199.40 L502.43 1201.67 L505.67 1203.89 L508.92 1206.06 L512.19 1208.18 L515.48 1210.24 L518.79 1212.25 L522.11 1214.21 L525.45 1216.13 L528.81 1217.99 L532.18 1219.81 L535.57 1221.58 L538.98 1223.31 L542.41 1224.99 L545.85 1226.62 L549.31 1228.22 L552.78 1229.77 L556.28 1231.28 L559.79 1232.75 L563.32 1234.18 L566.86 1235.57 L570.42 1236.92 L574.00 1238.24 L577.60 1239.52 L581.21 1240.77 L584.84 1241.97 L588.49 1243.15 L592.15 1244.29 L595.84 1245.40 L599.54 1246.48 L603.25 1247.53 L606.98 1248.54 L610.73 1249.53 L614.50 1250.49 L618.29 1251.41 L622.09 1252.32 L625.90 1253.19 L629.74 1254.04 L633.59 1254.86 L637.46 1255.66 L641.35 1256.43 L645.25 1257.18 L649.17 1257.91 L653.11 1258.61 L657.07 1259.29 L661.04 1259.95 L665.03 1260.59 L669.03 1261.21 L673.06 1261.81 L677.10 1262.39 L681.15 1262.95 L685.23 1263.50 L689.32 1264.02 L693.43 1264.53 L697.56 1265.02 L701.70 1265.50 L705.86 1265.96 L710.03 1266.40 L714.23 1266.83 L718.44 1267.24 L722.67 1267.64 L726.91 1268.03 L731.18 1268.40 L735.46 1268.76 L739.75 1269.11 L744.07 1269.45 L748.40 1269.77 L752.75 1270.09 L757.11 1270.39 L761.49 1270.68 L765.89 1270.96 L770.31 1271.23 L774.74 1271.49 L779.19 1271.74 L783.66 1271.99 L788.14 1272.22 L792.64 1272.44 L797.16 1272.66 L801.70 1272.87 L806.25 1273.07 L810.82 1273.26 L815.41 1273.45 L820.01 1273.63 L824.63 1273.80 L829.27 1273.97 L833.93 1274.13 L838.60 1274.28 L843.29 1274.43 L848.00 1274.57 L852.72 1274.71 L857.46 1274.84 L862.22 1274.97 L866.99 1275.09 L871.79 1275.20 L876.60 1275.31 L881.42 1275.42 L886.27 1275.53 L891.13 1275.62 L896.00 1275.72 L900.90 1275.81 L905.81 1275.90 L910.74 1275.98 L915.68 1276.06 L920.65 1276.14 L925.63 1276.21 L930.62 1276.28 L935.64 1276.35 L940.67 1276.42 L945.72 1276.48 L950.78 1276.54 L955.87 1276.60 L960.97 1276.65 L966.08 1276.70 L971.22 1276.75 L976.37 1276.80 L981.53 1276.85 L986.72 1276.89 L991.92 1276.93 L997.14 1276.97 L1002.38 1277.01 L1007.63 1277.05 L1012.90 1277.09 L1018.19 1277.12 L1023.49 1277.15 L1028.81 1277.18 L1034.15 1277.21 L1039.51 1277.24 L1044.88 1277.27 L1050.27 1277.29 L1055.68 1277.32 L1061.10 1277.34 L1066.55 1277.36 L1072.00 1277.38 L1077.48 1277.40 L1082.97 1277.42 L1088.48 1277.44 L1094.01 1277.46 L1099.55 1277.48 L1105.11 1277.49 L1110.69 1277.51 L1116.29 1277.52 L1121.90 1277.54 L1127.53 1277.55 L1133.17 1277.56 L1138.84 1277.57 L1144.52 1277.59 L1150.21 1277.60 L1155.93 1277.61 L1161.66 1277.62 L1167.41 1277.63 L1173.18 1277.64 L1178.96 1277.64 L1184.76 1277.65 L1190.58 1277.66 L1196.41 1277.67 L1202.26 1277.67 L1208.13 1277.68 L1214.01 1277.69 L1219.92 1277.69 L1225.84 1277.70 L1231.77 1277.70 L1237.73 1277.71 L1243.70 1277.71 L1249.69 1277.72 L1255.69 1277.72 L1261.71 1277.73 L1267.75 1277.73 L1273.81 1277.73 L1279.88 1277.74 L1285.97 1277.74 L1292.08 1277.74 L1298.20 1277.75 L1304.35 1277.75 L1310.51 1277.75 L1316.68 1277.76 L1322.87 1277.76 L1329.08 1277.76 L1335.31 1277.76 L1341.56 1277.76 L1347.82 1277.77 L1354.10 1277.77 L1360.39 1277.77 L1366.70 1277.77 L1373.03 1277.77 L1379.38 1277.77 L1385.74 1277.78 L1392.12 1277.78 L1398.52 1277.78 L1404.94 1277.78 L1411.37 1277.78 L1417.82 1277.78 L1424.29 1277.78 L1430.77 1277.78 L1437.27 1277.79 L1443.79 1277.79 L1450.32 1277.79 L1456.87 1277.79 L1463.44 1277.79 L1470.03 1277.79 L1476.63 1277.79 L1483.25 1277.79 L1489.89 1277.79 L1496.54 1277.79 L1503.21 1277.79 L1509.90 1277.79 L1516.61 1277.79 L1523.33 1277.79 L1530.07 1277.79 L1536.83 1277.79 L1543.60 1277.79 L1550.39 1277.79 L1557.20 1277.80 L1564.02 1277.80" stroke="#000" stroke-width="8.4" stroke-dasharray="21.9 19.65"/>
</g></g>
<rect x="1548" y="1273" width="248" height="1" fill="#ff0000" shape-rendering="crispEdges"/>
<text transform="translate(205.0,1297.6) scale(1.115,1)" font-size="56.8" text-anchor="end" fill="#262626">0</text>
<text transform="translate(206.5,1173.6) scale(1.115,1)" font-size="56.8" text-anchor="end" fill="#262626">0.1</text>
<text transform="translate(205.0,1049.5) scale(1.115,1)" font-size="56.8" text-anchor="end" fill="#262626">0.2</text>
<text transform="translate(205.0,925.5) scale(1.115,1)" font-size="56.8" text-anchor="end" fill="#262626">0.3</text>
<text transform="translate(205.0,801.5) scale(1.115,1)" font-size="56.8" text-anchor="end" fill="#262626">0.4</text>
<text transform="translate(205.0,677.4) scale(1.115,1)" font-size="56.8" text-anchor="end" fill="#262626">0.5</text>
<text transform="translate(205.0,553.4) scale(1.115,1)" font-size="56.8" text-anchor="end" fill="#262626">0.6</text>
<text transform="translate(205.0,429.4) scale(1.115,1)" font-size="56.8" text-anchor="end" fill="#262626">0.7</text>
<text transform="translate(205.0,305.4) scale(1.115,1)" font-size="56.8" text-anchor="end" fill="#262626">0.8</text>
<text transform="translate(205.0,181.3) scale(1.115,1)" font-size="56.8" text-anchor="end" fill="#262626">0.9</text>
<text transform="translate(206.5,57.3) scale(1.115,1)" font-size="56.8" text-anchor="end" fill="#262626">1</text>
<text transform="translate(226.5,1348.0) scale(1.115,1)" font-size="56.8" text-anchor="middle" fill="#262626">0</text>
<text transform="translate(540.3,1348.0) scale(1.115,1)" font-size="56.8" text-anchor="middle" fill="#262626">1</text>
<text transform="translate(854.1,1348.0) scale(1.115,1)" font-size="56.8" text-anchor="middle" fill="#262626">2</text>
<text transform="translate(1167.9,1348.0) scale(1.115,1)" font-size="56.8" text-anchor="middle" fill="#262626">3</text>
<text transform="translate(1481.7,1348.0) scale(1.115,1)" font-size="56.8" text-anchor="middle" fill="#262626">4</text>
<text transform="translate(1795.5,1348.0) scale(1.115,1)" font-size="56.8" text-anchor="middle" fill="#262626">5</text>
<text transform="translate(998.8,1422.2) scale(1.36,1)" font-size="62.5" fill="#262626">ζ</text>
<text transform="translate(99.5,685.1) scale(1.078,1.021) rotate(-90)" font-size="62.5" fill="#262626" stroke="#262626" stroke-width="1.3" style="font-family:'DejaVu Serif','Liberation Serif',serif;font-weight:normal">f</text>
<text transform="translate(34,638) skewY(14.6) translate(-34,-638) translate(114.8,652.8) scale(1.115,0.57) rotate(-90)" font-size="110.7" fill="#262626">′</text>
<g shape-rendering="crispEdges">
<rect x="711.5" y="66.5" width="1052" height="202" fill="#fff" stroke="#262626" stroke-width="9"/>
<rect x="723" y="123" width="120" height="8" fill="#ff0000"/>
<rect x="723" y="220" width="25" height="8" fill="#000"/>
<rect x="771" y="220" width="25" height="8" fill="#000"/>
<rect x="818" y="220" width="25" height="8" fill="#000"/>
</g>
<text transform="translate(850.0,136.3) scale(1.156,1)" font-size="68.5" text-anchor="start" fill="#000">SiC-TiO</text>
<text transform="translate(1127.0,169.9) scale(1.115,1)" font-size="56" text-anchor="start" fill="#000">2</text>
<text transform="translate(1178.0,136.3) scale(1.1657,1)" font-size="68.5" text-anchor="start" fill="#000">Hybrid nanofluid</text>
<text transform="translate(850.0,247.8) scale(1.156,1)" font-size="68.5" text-anchor="start" fill="#000">SiC nanofluid</text>
<rect x="983.5" y="674.5" width="618" height="107" fill="#fff" stroke="#000" stroke-width="9" shape-rendering="crispEdges"/>
<text transform="translate(999.5,750.3) scale(1.105,1)" font-size="71" fill="#000"><tspan x="0">S=</tspan><tspan x="85.5">0.1,0.4,0.8,1.2</tspan></text>
<line x1="526.6" y1="933.7" x2="352.7" y2="1098.1" stroke="#000" stroke-width="9.5"/>
<polygon points="329,1120.8 346,1083.9 352.7,1098.1 369,1103.2" fill="#000"/>
</svg></body></html>
